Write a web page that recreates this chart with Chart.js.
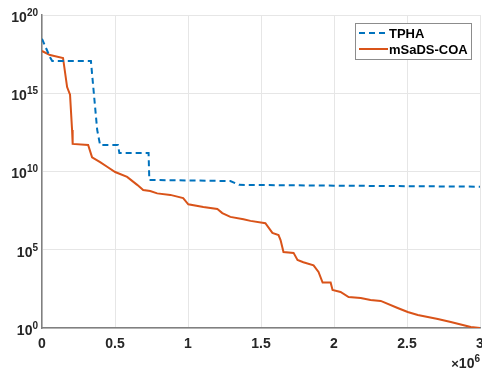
<!DOCTYPE html>
<html>
<head>
<meta charset="utf-8">
<script src="https://cdn.jsdelivr.net/npm/chart.js@4/dist/chart.umd.min.js"></script>
<style>
  html, body { margin: 0; padding: 0; background: #fff; }
  #wrap { width: 482px; height: 371px; }
</style>
</head>
<body>
<div id="wrap"><canvas id="convChart" width="482" height="371"></canvas></div>
<script>
'use strict';

// iterations (x 1e6) and objective values
var tphaIter = [0, 0.055, 0.07, 0.335, 0.378, 0.398, 0.52, 0.53, 0.73, 0.735, 1.29, 1.35, 2.0, 3.0];
var tphaValue = [3e18, 2e17, 1.15e17, 1.15e17, 4.5e12, 4.9e11, 4.9e11, 1.5e11, 1.5e11, 2.9e9, 2.45e9, 1.4e9, 1.25e9, 1.07e9];

var coaIter = [0, 0.055, 0.144, 0.172, 0.192, 0.206, 0.21, 0.316, 0.343, 0.398, 0.446, 0.501,
  0.583, 0.652, 0.693, 0.741, 0.789, 0.879, 0.967, 1.002, 1.105, 1.201, 1.235, 1.29, 1.38,
  1.428, 1.53, 1.578, 1.62, 1.634, 1.654, 1.723, 1.75, 1.79, 1.86, 1.894, 1.922, 1.977,
  1.99, 2.045, 2.1, 2.183, 2.25, 2.32, 2.436, 2.505, 2.574, 2.711, 2.8, 2.937, 3.0];
var coaValue = [5e17, 2.75e17, 1.8e17, 2.5e15, 8e14, 4.5e12, 5.8e11, 5e11, 8e10, 4e10, 2e10, 9.3e9,
  4.5e9, 1.4e9, 6.6e8, 5.6e8, 4e8, 3.2e8, 2e8, 8e7, 5.4e7, 4e7, 2.2e7, 1.26e7, 9e6,
  7e6, 5e6, 1.2e6, 8.7e5, 4.2e5, 7.2e4, 6.3e4, 2.2e4, 1.6e4, 1e4, 3.8e3, 800, 800,
  270, 200, 95, 83, 62, 54, 19, 10.5, 6.8, 3.8, 2.4, 1.15, 1.0];

var seriesNames = ['TPHA', 'mSaDS-COA'];
var xTickLabels = ['0', '0.5', '1', '1.5', '2', '2.5', '3'];
var yTickExponents = ['0', '5', '10', '15', '20'];
var xExponent = '6';

var FONT = '"Liberation Sans", Arial, sans-serif';

function toPoints(xs, ys) {
  return xs.map(function(x, i) { return { x: x * 1e6, y: ys[i] }; });
}

// draws "10" with a raised exponent, right aligned at x
function drawPower(ctx, prefix, exp, x, y) {
  ctx.font = 'bold 10px ' + FONT;
  var ew = ctx.measureText(exp).width;
  ctx.font = 'bold 14px ' + FONT;
  var bw = ctx.measureText(prefix).width;
  ctx.textAlign = 'left';
  ctx.textBaseline = 'middle';
  ctx.fillText(prefix, x - ew - bw, y);
  ctx.font = 'bold 10px ' + FONT;
  ctx.fillText(exp, x - ew, y - 5);
}

// log axis labels and the x multiplier
var powerLabels = {
  id: 'powerLabels',
  afterDraw: function(chart) {
    var ctx = chart.ctx;
    var ys = chart.scales.y;
    ctx.save();
    ctx.fillStyle = '#262626';
    yTickExponents.forEach(function(e) {
      var py = ys.getPixelForValue(Math.pow(10, Number(e)));
      drawPower(ctx, '10', e, 38, py + 3);
    });
    ctx.font = 'bold 11px ' + FONT;
    var px = chart.chartArea.right;
    ctx.font = 'bold 10px ' + FONT;
    var ew = ctx.measureText(xExponent).width;
    ctx.font = 'bold 14px ' + FONT;
    var tw = ctx.measureText('10').width;
    ctx.font = 'bold 13px ' + FONT;
    var mw = ctx.measureText('\u00d7').width;
    ctx.textBaseline = 'middle';
    ctx.textAlign = 'left';
    ctx.fillText('\u00d7', px - ew - tw - mw, 364);
    drawPower(ctx, '10', xExponent, px, 364);
    ctx.restore();
  }
};

// legend box drawn like the MATLAB one
var boxLegend = {
  id: 'boxLegend',
  afterDraw: function(chart) {
    var ctx = chart.ctx;
    var x = 355, y = 23, w = 116, h = 36;
    ctx.save();
    ctx.fillStyle = '#fff';
    ctx.fillRect(x, y, w, h);
    ctx.strokeStyle = '#8c8c8c';
    ctx.lineWidth = 1;
    ctx.strokeRect(x + 0.5, y + 0.5, w, h);
    chart.data.datasets.forEach(function(ds, i) {
      var ly = y + 10 + i * 16;
      ctx.strokeStyle = ds.borderColor;
      ctx.lineWidth = 2;
      ctx.setLineDash(ds.borderDash || []);
      ctx.beginPath();
      ctx.moveTo(x + 4, ly);
      ctx.lineTo(x + 33, ly);
      ctx.stroke();
      ctx.setLineDash([]);
      ctx.fillStyle = '#000';
      ctx.font = 'bold 13px ' + FONT;
      ctx.textBaseline = 'middle';
      ctx.fillText(ds.label, x + 34, ly + 1);
    });
    ctx.restore();
  }
};

var ctx = document.getElementById('convChart').getContext('2d');
var chart = new Chart(ctx, {
  type: 'line',
  data: {
    datasets: [{
      label: seriesNames[0],
      data: toPoints(tphaIter, tphaValue),
      borderColor: '#0072BD',
      borderWidth: 2,
      borderDash: [6, 4],
      pointRadius: 0,
      tension: 0
    }, {
      label: seriesNames[1],
      data: toPoints(coaIter, coaValue),
      borderColor: '#D95319',
      borderWidth: 2,
      pointRadius: 0,
      tension: 0
    }]
  },
  options: {
    responsive: false,
    animation: false,
    layout: { padding: { top: 15, right: 2, left: 0, bottom: 0 } },
    plugins: {
      legend: { display: false },
      tooltip: { enabled: false }
    },
    scales: {
      x: {
        type: 'linear',
        min: 0,
        max: 3e6,
        afterBuildTicks: function(scale) {
          scale.ticks = xTickLabels.map(function(t, i) { return { value: i * 5e5 }; });
        },
        afterFit: function(scale) {
          scale.height = 43;
          scale.paddingLeft = 0;
          scale.paddingRight = 0;
        },
        ticks: {
          color: '#262626',
          font: { family: FONT, size: 14, weight: 'bold' },
          padding: 8,
          maxRotation: 0,
          callback: function(v, i) { return xTickLabels[i]; }
        },
        grid: { color: '#e6e6e6', lineWidth: 1, drawTicks: false },
        border: { color: '#808080', width: 1.5 }
      },
      y: {
        type: 'logarithmic',
        min: 1,
        max: 1e20,
        afterBuildTicks: function(scale) {
          scale.ticks = yTickExponents.map(function(e) { return { value: Math.pow(10, Number(e)) }; });
        },
        afterFit: function(scale) {
          scale.width = 42;
          scale.paddingTop = 0;
          scale.paddingBottom = 0;
        },
        ticks: { display: false },
        grid: { color: '#e6e6e6', lineWidth: 1, drawTicks: false },
        border: { color: '#808080', width: 1.5 }
      }
    }
  },
  plugins: [boxLegend, powerLabels]
});
</script>
</body>
</html>
